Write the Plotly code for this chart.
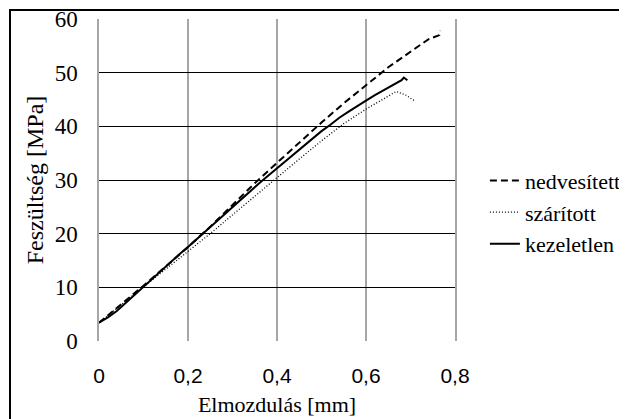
import plotly.graph_objects as go

# Elmozdulás [mm] / Feszültség [MPa]
x_kezeletlen = [0, 0.02, 0.04, 0.06, 0.08, 0.10, 0.12, 0.14, 0.16, 0.18, 0.20, 0.22, 0.24,
                0.26, 0.28, 0.30, 0.32, 0.34, 0.36, 0.38, 0.40, 0.42, 0.44, 0.46, 0.48, 0.50,
                0.52, 0.54, 0.56, 0.58, 0.60, 0.62, 0.64, 0.66, 0.68, 0.685, 0.693]
y_kezeletlen = [3.4, 4.4, 5.6, 7.1, 8.7, 10.2, 11.7, 13.2, 14.6, 16.1, 17.5, 19.0, 20.5,
                22.0, 23.5, 25.0, 26.5, 28.0, 29.4, 30.8, 32.2, 33.6, 35.0, 36.4, 37.8, 39.1,
                40.3, 41.6, 42.7, 43.8, 44.8, 45.8, 46.7, 47.6, 48.6, 49.1, 48.6]

x_nedvesitett = [0, 0.05, 0.10, 0.15, 0.20, 0.25, 0.30, 0.35, 0.40, 0.45, 0.50, 0.55,
                 0.60, 0.65, 0.70, 0.74, 0.765, 0.767]
y_nedvesitett = [3.4, 6.8, 10.3, 13.9, 17.5, 21.3, 25.3, 29.4, 33.2, 37.0, 40.7, 44.3,
                 47.7, 51.0, 53.9, 56.2, 57.0, 57.8]

x_szaritott = [0, 0.05, 0.10, 0.15, 0.20, 0.25, 0.30, 0.35, 0.40, 0.45, 0.50, 0.55,
               0.60, 0.64, 0.668, 0.69, 0.71]
y_szaritott = [3.4, 6.8, 10.1, 13.4, 16.7, 20.0, 23.5, 27.0, 30.5, 33.9, 37.3, 40.5,
               43.2, 45.2, 46.5, 45.8, 44.7]

serif = "Liberation Serif, Times New Roman, serif"
sans = "Liberation Sans, Arial, sans-serif"

fig = go.Figure()
fig.add_trace(go.Scatter(x=x_nedvesitett, y=y_nedvesitett, mode="lines", name="nedvesített",
                         line=dict(color="black", width=2, dash="7px,4px")))
fig.add_trace(go.Scatter(x=x_szaritott, y=y_szaritott, mode="lines", name="szárított",
                         line=dict(color="black", width=1.3, dash="1px,2px")))
fig.add_trace(go.Scatter(x=x_kezeletlen, y=y_kezeletlen, mode="lines", name="kezeletlen",
                         line=dict(color="black", width=2)))

# frame around the whole picture
fig.add_shape(type="rect", xref="paper", yref="paper",
              x0=-0.25, x1=1.55, y0=-0.3, y1=1.028,
              line=dict(color="black", width=2), layer="below")

# page body has an 8px margin: figure is 8px smaller and margins shifted to fit the window
fig.update_layout(
    width=619, height=411,
    margin=dict(l=91, r=172, t=11, b=78, autoexpand=False),
    paper_bgcolor="white", plot_bgcolor="white",
    separators=", ",
    showlegend=True,
    legend=dict(x=1.084, y=0.563, xanchor="left", yanchor="top",
                font=dict(family=serif, size=22, color="black"),
                itemwidth=30, tracegroupgap=0, bgcolor="rgba(0,0,0,0)",
                entrywidth=110, entrywidthmode="pixels"),
    xaxis=dict(range=[0, 0.8], dtick=0.2, showgrid=True, gridcolor="#a6a6a6", gridwidth=1.5,
               zeroline=False, showline=False, ticks="", ticklabelstandoff=20, automargin=False,
               ticklabeloverflow="allow",
               tickfont=dict(family=sans, size=21, color="black"),
               title=dict(text="Elmozdulás [mm]", standoff=10,
                          font=dict(family=serif, size=22, color="black"))),
    yaxis=dict(range=[0, 60], dtick=10, showgrid=True, gridcolor="black", gridwidth=1.3,
               zeroline=False, showline=True, mirror=True, linecolor="#a6a6a6", linewidth=1.5,
               ticks="", ticklabelstandoff=15, automargin=False, ticklabeloverflow="allow",
               tickfont=dict(family=serif, size=23, color="black"),
               title=dict(text="Feszültség [MPa]", standoff=4,
                          font=dict(family=serif, size=24, color="black"))),
)

fig.write_html("out.html")
